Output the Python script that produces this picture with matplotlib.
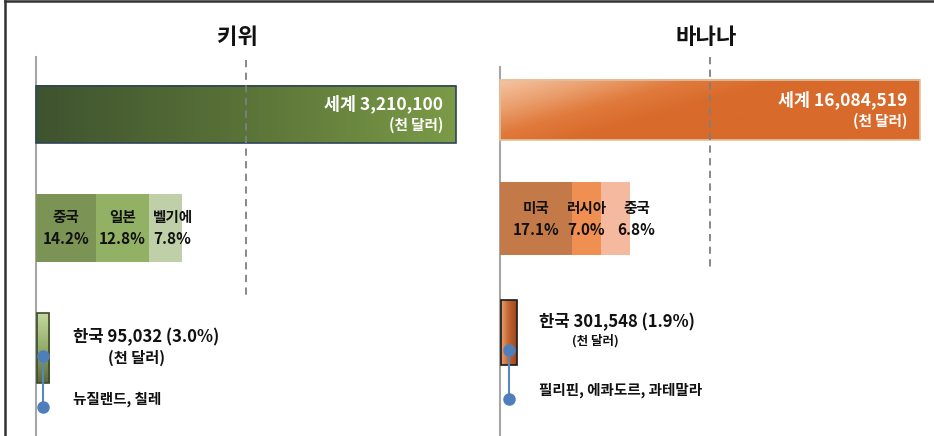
import numpy as np
import matplotlib.pyplot as plt
from matplotlib.colors import LinearSegmentedColormap
from matplotlib.patches import Rectangle
from matplotlib.lines import Line2D

plt.rcParams['font.family'] = ['Noto Sans CJK KR', 'DejaVu Sans']

# data
titles = ['키위', '바나나']
world_values = ['3,210,100', '16,084,519']
top3_countries = [['중국', '일본', '벨기에'], ['미국', '러시아', '중국']]
top3_shares = [[14.2, 12.8, 7.8], [17.1, 7.0, 6.8]]
korea_values = ['95,032', '301,548']
korea_shares = [3.0, 1.9]
competitors = ['뉴질랜드, 칠레', '필리핀, 에콰도르, 과테말라']

# styles
share_colors = [['#7b9455', '#93b164', '#bfd0a9'], ['#c47a48', '#ef8f52', '#f5b9a0']]
world_cmaps = [LinearSegmentedColormap.from_list('k', ['#3e532f', '#5a7338', '#7b9b47']),
               LinearSegmentedColormap.from_list('b', ['#f6c4a2', '#eba272', '#e07a3c', '#d86a2b', '#d86a2b'])]
korea_cmaps = [LinearSegmentedColormap.from_list('kk', ['#c2d89e', '#94ad6a', '#5b6b3b']),
               LinearSegmentedColormap.from_list('kb', ['#eba070', '#c0642f', '#9c4520'])]
world_edges = ['#2e4658', '#e3c29e']
korea_edges = ['#3d4a2a', '#1a1a1a']

W, H = 934, 436
fig = plt.figure(figsize=(W / 100, H / 100), dpi=100)

# px -> data: 100% of world bar = 420 px
scale = 4.2
panels = [
    dict(ax0=0, ax1=466, axis_x=36, axis_top=57, world_y=(86, 143), share_y=(194, 262),
         korea_y=(313, 383), pins=(356, 407), k_lab=(73, 337, 136, 358), comp_y=399,
         title_x=237, dash=(60, 297), k_fs=11),
    dict(ax0=466, ax1=934, axis_x=500, axis_top=67, world_y=(80, 140), share_y=(182, 255),
         korea_y=(300, 365), pins=(350, 399), k_lab=(539, 322, 595, 341), comp_y=390,
         title_x=706, dash=(57, 267), k_fs=9),
]

for i, p in enumerate(panels):
    ax = fig.add_axes([p['ax0'] / W, 0, (p['ax1'] - p['ax0']) / W, 1])
    ax.set_xlim((p['ax0'] - p['axis_x']) / scale, (p['ax1'] - p['axis_x']) / scale)
    ax.set_ylim(H, 0)
    ax.axis('off')

    def px(x):
        return (x - p['axis_x']) / scale

    # vertical axis line and dashed 50% line
    ax.plot([0, 0], [p['axis_top'], H], color='#a6a6a6', lw=1.5, zorder=1)
    ax.plot([50, 50], list(p['dash']), color='#7f7f7f', lw=1.3, ls=(0, (4, 3)), zorder=4)

    ax.text(px(p['title_x']), 37, titles[i], ha='center', va='center', fontsize=16,
            fontweight='bold', color='#111111')

    # world bar with gradient
    y0, y1 = p['world_y']
    xs = np.linspace(0, 1, 200)
    ys = np.linspace(0, 1, 40)
    gx, gy = np.meshgrid(xs, ys)
    if i == 0:
        grad = gx
    else:
        grad = np.clip(gx * 1.1 + gy * 0.55, 0, 1)
    ax.imshow(grad, cmap=world_cmaps[i], extent=[0, 100, y1, y0], aspect='auto', zorder=2,
              interpolation='bilinear', vmin=0, vmax=1)
    ax.add_patch(Rectangle((0, y0), 100, y1 - y0, fill=False, ec=world_edges[i], lw=1.2, zorder=3))
    ax.text(100 - 13 / scale, (y0 + y1) / 2 - 10.5, '세계 ' + world_values[i], ha='right',
            va='center', color='white', fontsize=12.5, fontweight='bold', zorder=5)
    ax.text(100 - 13 / scale, (y0 + y1) / 2 + 10.5, '(천 달러)', ha='right', va='center',
            color='white', fontsize=10.5, fontweight='bold', zorder=5)

    # top 3 stacked shares
    s0, s1 = p['share_y']
    left = 0
    prev_c = -1e9
    for name, share, col in zip(top3_countries[i], top3_shares[i], share_colors[i]):
        ax.barh((s0 + s1) / 2, share, height=s1 - s0, left=left, color=col, zorder=2)
        c = max(left + share / 2, prev_c + 50 / scale)
        ax.text(c, (s0 + s1) / 2 - 11, name, ha='center', va='center', fontsize=10.5,
                fontweight='bold', color='#111111', zorder=5)
        ax.text(c, (s0 + s1) / 2 + 11, f'{share:.1f}%', ha='center', va='center', fontsize=11,
                fontweight='bold', color='#111111', zorder=5)
        prev_c = c
        left += share

    # korea bar
    k0, k1 = p['korea_y']
    kw = max(korea_shares[i], 3.0 if i == 0 else 3.8)
    kgrad = gy if i == 0 else gx
    ax.imshow(kgrad, cmap=korea_cmaps[i], extent=[0.2, 0.2 + kw, k1, k0], aspect='auto',
              zorder=2, interpolation='bilinear')
    ax.add_patch(Rectangle((0.2, k0), kw, k1 - k0, fill=False, ec=korea_edges[i], lw=1.2, zorder=3))
    lx, ly, l2x, l2y = p['k_lab']
    ax.text(px(lx), ly, f'한국 {korea_values[i]} ({korea_shares[i]:.1f}%)', ha='left', va='center',
            fontsize=12, fontweight='bold', color='#111111')
    ax.text(px(l2x), l2y, '(천 달러)', ha='center', va='center', fontsize=p['k_fs'],
            fontweight='bold', color='#111111')

    # pin to competitors
    cx = 0.2 + kw / 2
    ax.plot([cx, cx], list(p['pins']), color='#5b86bd', lw=1.5, zorder=6)
    ax.plot([cx, cx], list(p['pins']), 'o', color='#4f7fba', ms=8, zorder=7)
    ax.text(px(lx), p['comp_y'], competitors[i], ha='left', va='center', fontsize=10.5,
            fontweight='bold', color='#111111')

# outer frame (top and left edges)
fig.add_artist(Line2D([4.5 / W, 4.5 / W], [0, 1 - 1.5 / H], color='#333333', lw=1.8))
fig.add_artist(Line2D([4.5 / W, 1], [1 - 1.5 / H, 1 - 1.5 / H], color='#333333', lw=1.8))

fig.savefig('out.png', dpi=100)
